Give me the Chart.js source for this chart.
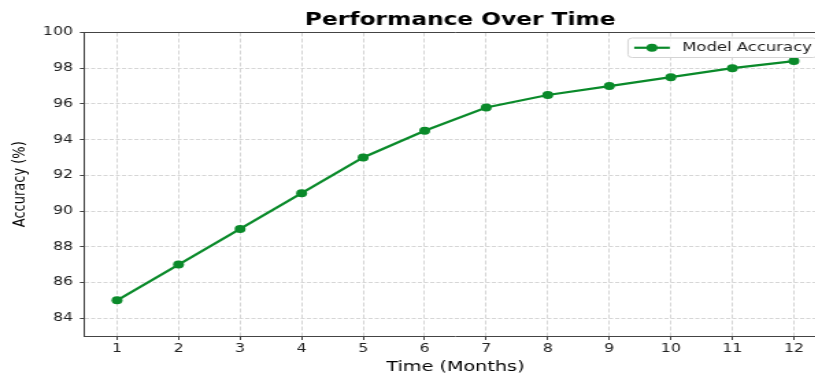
<!DOCTYPE html>
<html>
<head>
<meta charset="utf-8">
<script src="https://cdn.jsdelivr.net/npm/chart.js@4.4.1/dist/chart.umd.min.js"></script>
<style>
  html, body { margin: 0; padding: 0; background: #fff; width: 815px; height: 374px; overflow: hidden; }
  #wrap { position: relative; width: 815px; height: 374px; overflow: hidden; }
  /* the reference is stretched sideways, so draw narrow and scale in x */
  #chart { position: absolute; left: 0; top: 0; transform: scaleX(1.37); transform-origin: 0 0; }
</style>
</head>
<body>
<div id="wrap"><canvas id="chart" width="615" height="374"></canvas></div>
<script>
// data
const months = [1, 2, 3, 4, 5, 6, 7, 8, 9, 10, 11, 12];
const accuracy = [85, 87, 89, 91, 93, 94.5, 95.8, 96.5, 97, 97.5, 98, 98.4];
const yTicks = [84, 86, 88, 90, 92, 94, 96, 98, 100];

const titleText = "Performance Over Time";
const seriesName = "Model Accuracy";
const lineColor = "#0a8a2a";
const spineColor = "#444";
const gridColor = "#d6d6d6";
const font = "DejaVu Sans";

// title, top spine and legend box drawn by hand (matplotlib look)
const extras = {
    id: "extras",
    afterDraw(chart) {
        const c = chart.ctx;
        const a = chart.chartArea;
        c.save();
        // top spine
        c.strokeStyle = spineColor;
        c.lineWidth = 1;
        c.beginPath();
        c.moveTo(a.left, a.top);
        c.lineTo(a.right, a.top);
        c.stroke();

        // title
        c.fillStyle = "#000";
        c.font = "bold 17px '" + font + "'";
        c.textAlign = "center";
        c.textBaseline = "middle";
        c.fillText(titleText, (a.left + a.right) / 2 + 3.5, 20.5);

        // legend
        c.font = "12px '" + font + "'";
        const tw = c.measureText(seriesName).width;
        const right = a.right - 7;
        const left = 458.4;
        const top = 38, h = 19.5;
        c.fillStyle = "rgba(255,255,255,0.85)";
        c.strokeStyle = "#d4d4d4";
        c.lineWidth = 1;
        c.beginPath();
        c.roundRect(left, top, right - left, h, 3);
        c.fill();
        c.stroke();
        const midY = top + h / 2;
        c.strokeStyle = lineColor;
        c.lineWidth = 2.2;
        c.beginPath();
        c.moveTo(left + 4.5, midY);
        c.lineTo(left + 30.5, midY);
        c.stroke();
        c.fillStyle = lineColor;
        c.beginPath();
        c.arc(left + 17.5, midY, 4, 0, Math.PI * 2);
        c.fill();
        c.fillStyle = "#222";
        c.textAlign = "left";
        c.fillText(seriesName, right - tw - 4, midY + 0.5);
        c.restore();
    }
};

const ctx = document.getElementById("chart").getContext("2d");

const chart = new Chart(ctx, {
    type: "line",
    data: {
        datasets: [{
            label: seriesName,
            data: months.map((m, i) => ({ x: m, y: accuracy[i] })),
            borderColor: lineColor,
            backgroundColor: lineColor,
            borderWidth: 2.2,
            pointRadius: 4,
            pointHoverRadius: 4,
            pointBorderWidth: 0,
            tension: 0,
            fill: false
        }]
    },
    options: {
        responsive: false,
        animation: false,
        layout: { padding: { left: 0, right: 11.4, top: 32.5, bottom: 0 } },
        plugins: {
            legend: { display: false },
            title: { display: false },
            tooltip: { enabled: false }
        },
        scales: {
            x: {
                type: "linear",
                min: 0.463,
                max: 12.537,
                afterBuildTicks: s => { s.ticks = months.map(v => ({ value: v })); },
                afterFit: s => { s.height = 38; },
                ticks: { color: "#222", font: { family: font, size: 11.5 }, padding: 2 },
                grid: {
                    color: gridColor,
                    tickLength: 4,
                    tickColor: spineColor,
                    tickBorderDash: []
                },
                // in v4 the grid line dash lives on border.dash
                border: { display: true, color: spineColor, width: 1, dash: [4, 2] },
                title: {
                    display: true,
                    text: "Time (Months)",
                    color: "#000",
                    font: { family: font, size: 14 },
                    padding: { top: 0, bottom: -2 }
                }
            },
            y: {
                min: 83,
                max: 100,
                afterBuildTicks: s => { s.ticks = yTicks.map(v => ({ value: v })); },
                afterFit: s => { s.width = 61.3; },
                ticks: { color: "#222", font: { family: font, size: 11.5 }, padding: 5 },
                grid: {
                    color: gridColor,
                    tickLength: 3,
                    tickColor: spineColor,
                    tickBorderDash: []
                },
                border: { display: true, color: spineColor, width: 1, dash: [3, 1.5] },
                title: {
                    display: true,
                    text: "Accuracy (%)",
                    color: "#000",
                    font: { family: font, size: 13 },
                    padding: { top: 7, bottom: 0 }
                }
            }
        }
    },
    plugins: [extras]
});
</script>
</body>
</html>
